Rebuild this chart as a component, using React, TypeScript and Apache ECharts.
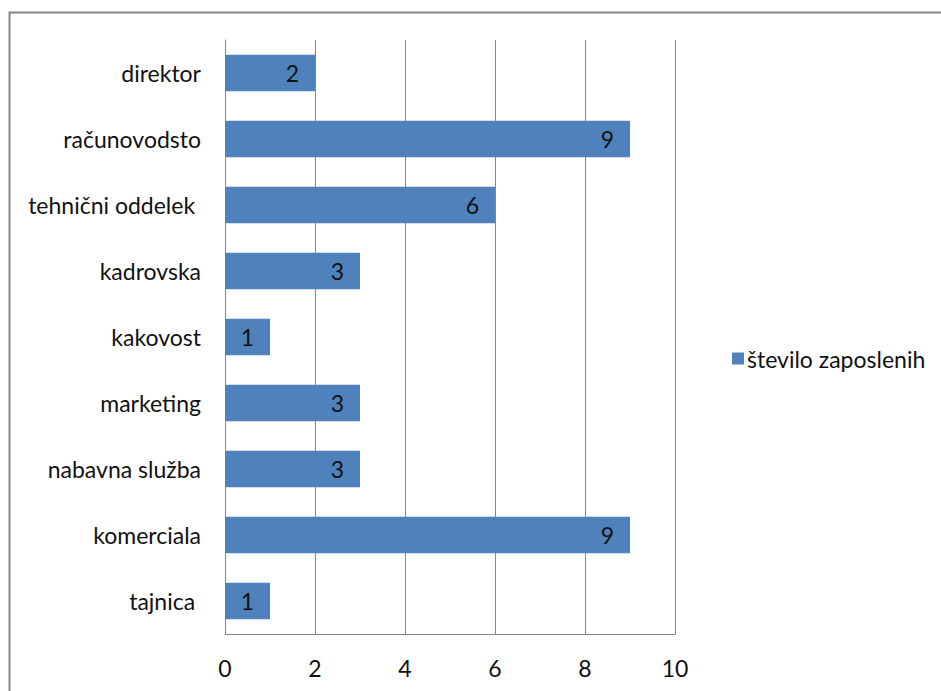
import React, { useEffect, useRef } from "react";
import * as echarts from "echarts";

const categories = [
  "direktor",
  "računovodsto",
  "tehnični oddelek ",
  "kadrovska",
  "kakovost",
  "marketing",
  "nabavna služba",
  "komerciala",
  "tajnica ",
];
const values = [2, 9, 6, 3, 1, 3, 3, 9, 1];
const seriesName = "število zaposlenih";
const xTicks = { min: 0, max: 10, interval: 2 };

export default function App() {
  const ref = useRef<HTMLDivElement>(null);
  useEffect(() => {
    document.body.style.margin = "0";
    const chart = echarts.init(ref.current!, null, { renderer: "svg" });
    const font = "Lato, 'Open Sans', sans-serif";
    const fs = 23;
    const col = "#111111";
    chart.setOption({
      animation: false,
      backgroundColor: "#ffffff",
      textStyle: { fontFamily: font },
      graphic: [
        {
          type: "rect",
          shape: { x: 9.5, y: 12.5, width: 960, height: 720 },
          style: { fill: "none", stroke: "#868686", lineWidth: 2 },
          silent: true,
        },
      ],
      grid: { left: 225, right: 266, top: 40, bottom: 57, containLabel: false },
      legend: {
        orient: "vertical",
        left: 727,
        top: 342,
        icon: "rect",
        itemWidth: 12,
        itemHeight: 12,
        itemGap: 6,
        textStyle: { fontSize: fs, color: col, fontFamily: font, padding: [0, 0, 0, -2] },
        data: [seriesName],
      },
      xAxis: {
        type: "value",
        min: xTicks.min,
        max: xTicks.max,
        interval: xTicks.interval,
        axisLine: { show: true, lineStyle: { color: "#868686" } },
        axisTick: { show: false },
        splitLine: { show: true, lineStyle: { color: "#868686", width: 1 } },
        axisLabel: { fontSize: fs, color: col, margin: 22, fontFamily: font },
      },
      yAxis: {
        type: "category",
        data: categories,
        inverse: true,
        axisLine: { show: true, lineStyle: { color: "#868686" } },
        axisTick: { show: false },
        axisLabel: { fontSize: fs, color: col, margin: 24, fontFamily: font },
      },
      series: [
        {
          name: seriesName,
          type: "bar",
          data: values,
          barCategoryGap: "45%",
          itemStyle: { color: "#4F81BD" },
          label: {
            show: true,
            position: "insideRight",
            distance: 16,
            fontSize: fs,
            color: col,
            fontFamily: font,
          },
        },
      ],
    });
    return () => chart.dispose();
  }, []);
  return (
    <div
      ref={ref}
      style={{ position: "absolute", left: 0, top: 0, width: 941, height: 691 }}
    />
  );
}
